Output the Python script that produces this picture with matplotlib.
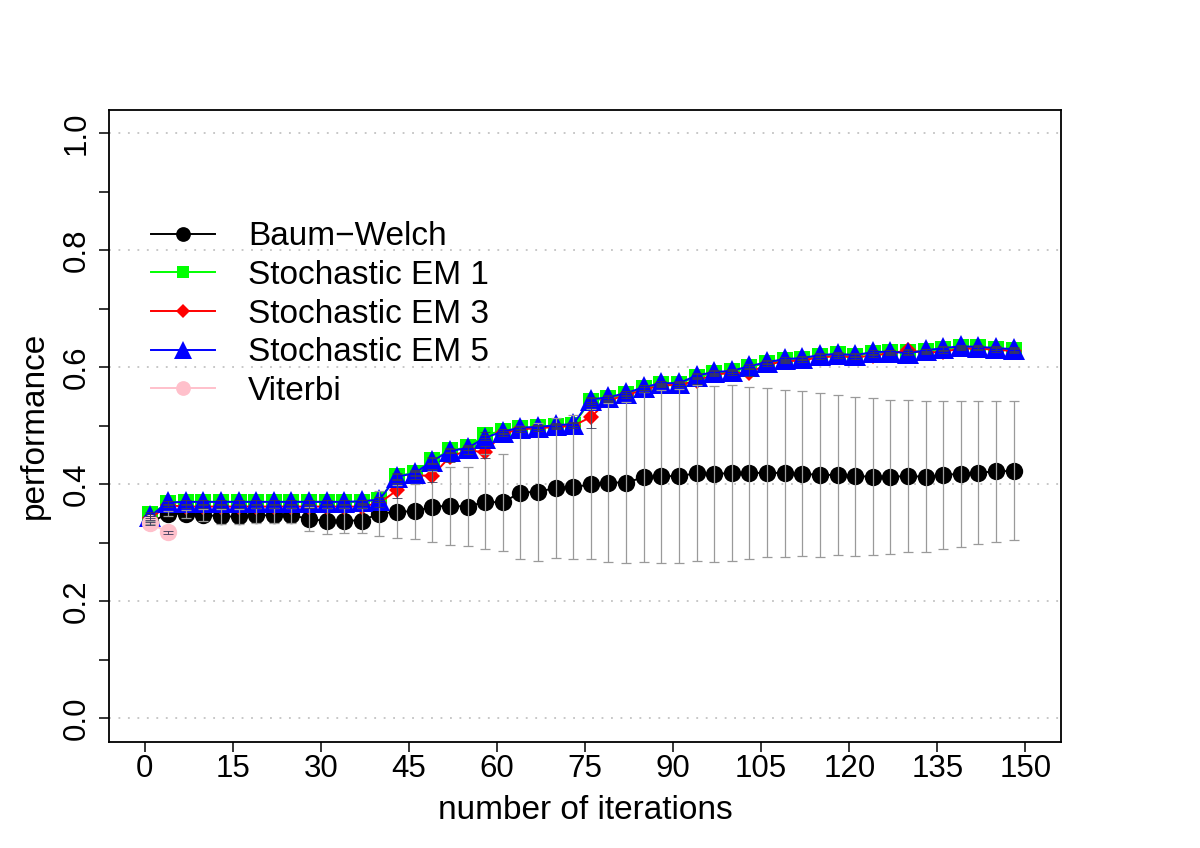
import matplotlib
matplotlib.use("Agg")
import matplotlib.pyplot as plt

plt.rcParams['font.family'] = ['Liberation Sans', 'DejaVu Sans']

# iterations at which each method was evaluated (every 3rd iteration)
iters = list(range(1, 149, 3))

baum_welch = [0.335, 0.350, 0.349, 0.348, 0.345, 0.345, 0.347, 0.347, 0.347, 0.341,
              0.337, 0.338, 0.338, 0.350, 0.353, 0.354, 0.362, 0.363, 0.362, 0.370,
              0.369, 0.386, 0.387, 0.394, 0.395, 0.400, 0.403, 0.403, 0.412, 0.414,
              0.414, 0.419, 0.418, 0.419, 0.419, 0.420, 0.419, 0.418, 0.416, 0.416,
              0.414, 0.413, 0.413, 0.414, 0.413, 0.416, 0.418, 0.420, 0.422, 0.423]
baum_welch_sd = [0.003, 0.005, 0.007, 0.010, 0.013, 0.013, 0.013, 0.013, 0.013, 0.020,
                 0.022, 0.021, 0.021, 0.038, 0.045, 0.047, 0.061, 0.066, 0.068, 0.081,
                 0.083, 0.113, 0.118, 0.120, 0.123, 0.128, 0.136, 0.138, 0.145, 0.148,
                 0.149, 0.150, 0.150, 0.150, 0.147, 0.145, 0.143, 0.141, 0.140, 0.137,
                 0.136, 0.134, 0.132, 0.130, 0.129, 0.126, 0.125, 0.122, 0.121, 0.119]

sem1 = [0.349, 0.368, 0.370, 0.370, 0.370, 0.370, 0.370, 0.370, 0.370, 0.370,
        0.370, 0.370, 0.370, 0.374, 0.414, 0.420, 0.442, 0.458, 0.463, 0.485,
        0.491, 0.496, 0.498, 0.500, 0.502, 0.543, 0.547, 0.555, 0.565, 0.571,
        0.572, 0.584, 0.590, 0.593, 0.600, 0.608, 0.612, 0.615, 0.620, 0.622,
        0.620, 0.624, 0.626, 0.626, 0.628, 0.631, 0.634, 0.634, 0.632, 0.630]
sem1_sd = [0.003, 0.003, 0.003, 0.003, 0.003, 0.003, 0.003, 0.003, 0.003, 0.003,
           0.003, 0.003, 0.003, 0.004, 0.005, 0.004, 0.005, 0.004, 0.004, 0.005,
           0.004, 0.003, 0.003, 0.003, 0.003, 0.005, 0.004, 0.004, 0.004, 0.003,
           0.003, 0.004, 0.003, 0.003, 0.003, 0.003, 0.003, 0.003, 0.003, 0.003,
           0.003, 0.003, 0.003, 0.003, 0.003, 0.003, 0.003, 0.003, 0.003, 0.003]

sem3 = [0.342, 0.364, 0.362, 0.362, 0.362, 0.362, 0.362, 0.362, 0.362, 0.362,
        0.362, 0.362, 0.362, 0.368, 0.390, 0.415, 0.415, 0.447, 0.458, 0.455,
        0.487, 0.494, 0.496, 0.498, 0.500, 0.515, 0.544, 0.552, 0.562, 0.569,
        0.570, 0.577, 0.588, 0.590, 0.591, 0.605, 0.610, 0.612, 0.617, 0.619,
        0.617, 0.620, 0.624, 0.629, 0.625, 0.627, 0.632, 0.632, 0.630, 0.628]
sem3_sd = [0.003, 0.003, 0.003, 0.003, 0.003, 0.003, 0.003, 0.003, 0.003, 0.003,
           0.003, 0.003, 0.003, 0.006, 0.013, 0.006, 0.011, 0.008, 0.006, 0.010,
           0.004, 0.004, 0.004, 0.004, 0.004, 0.019, 0.004, 0.004, 0.004, 0.003,
           0.003, 0.006, 0.003, 0.003, 0.006, 0.003, 0.003, 0.003, 0.003, 0.003,
           0.003, 0.003, 0.003, 0.003, 0.003, 0.003, 0.003, 0.003, 0.003, 0.003]

sem5 = [0.346, 0.369, 0.370, 0.370, 0.370, 0.370, 0.370, 0.370, 0.370, 0.370,
        0.370, 0.370, 0.371, 0.374, 0.413, 0.419, 0.440, 0.457, 0.462, 0.480,
        0.490, 0.497, 0.498, 0.501, 0.503, 0.545, 0.549, 0.556, 0.566, 0.573,
        0.573, 0.586, 0.592, 0.594, 0.602, 0.609, 0.614, 0.616, 0.621, 0.623,
        0.621, 0.626, 0.627, 0.624, 0.629, 0.633, 0.636, 0.635, 0.633, 0.631]
sem5_sd = [0.003, 0.003, 0.003, 0.003, 0.003, 0.003, 0.003, 0.003, 0.003, 0.003,
           0.003, 0.003, 0.003, 0.004, 0.005, 0.004, 0.005, 0.004, 0.004, 0.005,
           0.004, 0.003, 0.003, 0.003, 0.003, 0.005, 0.004, 0.004, 0.004, 0.003,
           0.003, 0.004, 0.003, 0.003, 0.003, 0.003, 0.003, 0.003, 0.003, 0.003,
           0.003, 0.003, 0.003, 0.003, 0.003, 0.003, 0.003, 0.003, 0.003, 0.003]

viterbi_iters = [1, 4]
viterbi = [0.333, 0.318]
viterbi_sd = [0.003, 0.003]

x_ticks = list(range(0, 151, 15))
y_ticks = [0.0, 0.1, 0.2, 0.3, 0.4, 0.5, 0.6, 0.7, 0.8, 0.9, 1.0]
y_ticklabels = ['0.0', '', '0.2', '', '0.4', '', '0.6', '', '0.8', '', '1.0']
grid_levels = [0.0, 0.2, 0.4, 0.6, 0.8, 1.0]

fig = plt.figure(figsize=(12, 8.48), dpi=100)
ax = fig.add_axes([0.0911, 0.1254, 0.7928, 0.7449])

for g in grid_levels:
    ax.axhline(g, color='#b8b8b8', lw=1.1, dashes=(1.2, 5.0), zorder=0)

series = [
    (iters, baum_welch, 'black', 'o', 12.5, 'Baum\u2212Welch'),
    (iters, sem1, '#00ff00', 's', 11, 'Stochastic EM 1'),
    (iters, sem3, '#ff0000', 'D', 8, 'Stochastic EM 3'),
    (iters, sem5, '#0000ff', '^', 16, 'Stochastic EM 5'),
    (viterbi_iters, viterbi, '#ffc0cb', 'o', 12.5, 'Viterbi'),
]
for i, (xs, ys, col, mk, ms, lab) in enumerate(series):
    ax.plot(xs, ys, color=col, lw=1.4, marker=mk, markersize=ms,
            markeredgewidth=0, label=lab, zorder=2 + i)

# error bars drawn on top of the points, like arrows() after plotting
ax.errorbar(iters, baum_welch, yerr=baum_welch_sd, fmt='none', ecolor='#9a9a9a',
            elinewidth=0.9, capsize=3.5, capthick=0.9, zorder=10)
for xs, ys, sd in [(iters, sem1, sem1_sd), (iters, sem3, sem3_sd),
                   (iters, sem5, sem5_sd), (viterbi_iters, viterbi, viterbi_sd)]:
    ax.errorbar(xs, ys, yerr=sd, fmt='none', ecolor='#3a3a5a', elinewidth=0.6,
                capsize=3.5, capthick=0.6, zorder=10)

ax.set_xlim(-6, 156)
ax.set_ylim(-0.04, 1.04)
ax.set_xticks(x_ticks)
ax.set_xticklabels([str(t) for t in x_ticks], fontsize=22.5)
ax.set_yticks(y_ticks)
ax.set_yticklabels(y_ticklabels, fontsize=22.5, rotation=90, va='center')
ax.tick_params(axis='both', direction='out', length=7, width=1.1)
ax.tick_params(axis='x', pad=2)
ax.tick_params(axis='y', pad=6)
for sp in ax.spines.values():
    sp.set_linewidth(1.3)

ax.set_xlabel('number of iterations', fontsize=24, labelpad=7.5)
ax.set_ylabel('performance', fontsize=24, labelpad=8)

ax.legend(loc='upper left', bbox_to_anchor=(0.03, 0.845), frameon=False,
          fontsize=24, handlelength=1.9, handletextpad=1.0, labelspacing=0.23,
          borderaxespad=0, markerscale=0.85)

fig.savefig('out.png', dpi=100)
